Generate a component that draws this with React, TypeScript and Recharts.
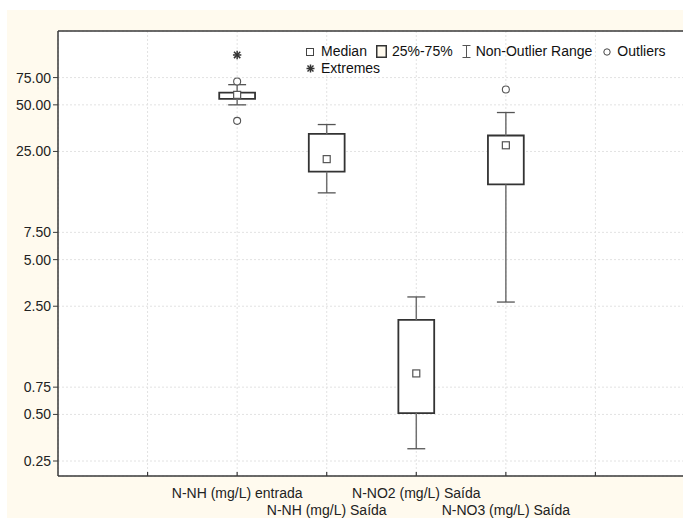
import React from 'react';
import {
  ComposedChart,
  XAxis,
  YAxis,
  CartesianGrid,
  Scatter,
  ReferenceArea,
  ReferenceLine,
  Legend,
} from 'recharts';

// ---------- data ----------
const categories = [
  'N-NH (mg/L) entrada',
  'N-NH (mg/L) Saída',
  'N-NO2 (mg/L) Saída',
  'N-NO3 (mg/L) Saída',
];
const categoryPositions = [2, 3, 4, 5];
const whiskerLow = [50, 13.5, 0.3, 2.66];
const quartile1 = [54.7, 18.5, 0.51, 15.3];
const medians = [58, 22.3, 0.92, 27.4];
const quartile3 = [60, 32.5, 2.04, 31.7];
const whiskerHigh = [67.5, 37.3, 2.87, 44.6];
const outlierCategory = [0, 0, 3];
const outlierValues = [70.7, 39.4, 62.8];
const extremeCategory = [0];
const extremeValues = [105];

const yTicks = [0.25, 0.5, 0.75, 2.5, 5, 7.5, 25, 50, 75];
const xTicks = [1, 2, 3, 4, 5, 6];
const xDomain = [0, 7];
const yDomain = [0.2, 150];

// ---------- styles ----------
const FONT = "'Liberation Sans', Arial, Helvetica, sans-serif";
const CREAM = '#fffaee';
const AXIS = '#3a3a3a';
const BOX_HALF = 0.2;
const CAP_HALF = 0.1;

const medianData = categoryPositions.map((x, i) => ({ x, y: medians[i] }));
const outlierData = outlierCategory.map((c, i) => ({ x: categoryPositions[c], y: outlierValues[i] }));
const extremeData = extremeCategory.map((c, i) => ({ x: categoryPositions[c], y: extremeValues[i] }));

const BottomTick = (props: any) => {
  const { x, y, payload } = props;
  const idx = categoryPositions.indexOf(payload.value);
  return (
    <g>
      <line x1={x} x2={x} y1={y - 4} y2={y} stroke={AXIS} strokeWidth={1.2} />
      {idx >= 0 && (
        <text
          x={x}
          y={y + (idx % 2 === 0 ? 22 : 39)}
          textAnchor="middle"
          fontSize={14}
          fontFamily={FONT}
          fill="#222"
        >
          {categories[idx]}
        </text>
      )}
    </g>
  );
};

const TopTick = (props: any) => {
  const { x, y } = props;
  return <line x1={x} x2={x} y1={y} y2={y + 4} stroke={AXIS} strokeWidth={1.2} />;
};

const MedianShape = (props: any) => {
  const { cx, cy } = props;
  return <rect x={cx - 3.5} y={cy - 3.5} width={7} height={7} fill="#fff" stroke="#555" strokeWidth={1.2} />;
};

const OutlierShape = (props: any) => {
  const { cx, cy } = props;
  return <circle cx={cx} cy={cy} r={3.5} fill="#fff" stroke="#555" strokeWidth={1.1} />;
};

const ExtremeShape = (props: any) => {
  const { cx, cy } = props;
  const r = 4.2;
  const d = r * 0.75;
  return (
    <g stroke="#333" strokeWidth={1.5}>
      <line x1={cx} x2={cx} y1={cy - r} y2={cy + r} />
      <line x1={cx - d} x2={cx + d} y1={cy - d} y2={cy + d} />
      <line x1={cx - d} x2={cx + d} y1={cy + d} y2={cy - d} />
      <line x1={cx - r} x2={cx + r} y1={cy} y2={cy} />
    </g>
  );
};

const LegendContent = () => {
  const item: React.CSSProperties = { display: 'inline-flex', alignItems: 'center', marginRight: 9 };
  const icon: React.CSSProperties = { marginRight: 7, display: 'block' };
  return (
    <div style={{ fontFamily: FONT, fontSize: 14, color: '#111', lineHeight: '16.5px', whiteSpace: 'nowrap' }}>
      <div style={{ display: 'flex', alignItems: 'center', height: 17 }}>
        <span style={item}>
          <svg width={8} height={8} style={icon}>
            <rect x={0.5} y={0.5} width={7} height={7} fill="#fff" stroke="#444" />
          </svg>
          Median
        </span>
        <span style={item}>
          <svg width={11} height={13} style={{ ...icon, marginRight: 5 }}>
            <rect x={0.75} y={0.75} width={9.5} height={11.5} fill={CREAM} stroke="#333" strokeWidth={1.5} />
          </svg>
          25%-75%
        </span>
        <span style={{ ...item, marginRight: 11 }}>
          <svg width={9} height={13} style={{ ...icon, marginRight: 5 }}>
            <line x1={0.5} x2={8.5} y1={0.5} y2={0.5} stroke="#555" />
            <line x1={4.5} x2={4.5} y1={0.5} y2={12.5} stroke="#555" />
            <line x1={0.5} x2={8.5} y1={12.5} y2={12.5} stroke="#555" />
          </svg>
          Non-Outlier Range
        </span>
        <span style={item}>
          <svg width={8} height={8} style={{ ...icon, marginRight: 6 }}>
            <circle cx={4} cy={4} r={3.2} fill="#fff" stroke="#444" />
          </svg>
          Outliers
        </span>
      </div>
      <div style={{ display: 'flex', alignItems: 'center', height: 16.5 }}>
        <span style={item}>
          <svg width={9} height={9} style={{ ...icon, marginRight: 6 }}>
            <g stroke="#333" strokeWidth={1.5}>
              <line x1={4.5} x2={4.5} y1={0.5} y2={8.5} />
              <line x1={1.5} x2={7.5} y1={1.5} y2={7.5} />
              <line x1={1.5} x2={7.5} y1={7.5} y2={1.5} />
              <line x1={0.5} x2={8.5} y1={4.5} y2={4.5} />
            </g>
          </svg>
          Extremes
        </span>
      </div>
    </div>
  );
};

export default function App() {
  return (
    <div
      style={{
        position: 'absolute',
        left: 7,
        top: 10,
        width: 676,
        height: 508,
        background: CREAM,
        overflow: 'hidden',
      }}
    >
      <ComposedChart
        width={680}
        height={508}
        margin={{ top: 20, right: 2, bottom: 0, left: 0 }}
        style={{ fontFamily: FONT }}
      >
        <CartesianGrid stroke="#e2e2e2" strokeDasharray="2 2" fill="#ffffff" fillOpacity={1} />
        <XAxis
          type="number"
          dataKey="x"
          domain={xDomain}
          ticks={xTicks}
          allowDataOverflow
          height={42}
          tickSize={0}
          tickMargin={0}
          tickLine={false}
          tick={<BottomTick />}
          axisLine={{ stroke: AXIS, strokeWidth: 1.5 }}
          interval={0}
        />
        <XAxis
          xAxisId="top"
          orientation="top"
          type="number"
          domain={xDomain}
          ticks={xTicks}
          allowDataOverflow
          height={1}
          tickSize={0}
          tickMargin={0}
          tickLine={false}
          tick={<TopTick />}
          axisLine={{ stroke: AXIS, strokeWidth: 1.5 }}
          interval={0}
        />
        <YAxis
          type="number"
          dataKey="y"
          scale="log"
          domain={yDomain}
          ticks={yTicks}
          allowDataOverflow
          width={51}
          tickSize={5}
          tickMargin={2}
          tickLine={{ stroke: AXIS }}
          axisLine={{ stroke: AXIS, strokeWidth: 1.5 }}
          tick={{ fontSize: 14, fill: '#222', fontFamily: FONT }}
          tickFormatter={(v: number) => v.toFixed(2)}
          interval={0}
        />
        {categoryPositions.map((c, i) => (
          <ReferenceLine
            key={`wu${i}`}
            segment={[
              { x: c, y: quartile3[i] },
              { x: c, y: whiskerHigh[i] },
            ]}
            stroke="#707070"
            strokeWidth={1.5}
          />
        ))}
        {categoryPositions.map((c, i) => (
          <ReferenceLine
            key={`wl${i}`}
            segment={[
              { x: c, y: whiskerLow[i] },
              { x: c, y: quartile1[i] },
            ]}
            stroke="#707070"
            strokeWidth={1.5}
          />
        ))}
        {categoryPositions.map((c, i) => (
          <ReferenceLine
            key={`cu${i}`}
            segment={[
              { x: c - CAP_HALF, y: whiskerHigh[i] },
              { x: c + CAP_HALF, y: whiskerHigh[i] },
            ]}
            stroke="#555"
            strokeWidth={1.3}
          />
        ))}
        {categoryPositions.map((c, i) => (
          <ReferenceLine
            key={`cl${i}`}
            segment={[
              { x: c - CAP_HALF, y: whiskerLow[i] },
              { x: c + CAP_HALF, y: whiskerLow[i] },
            ]}
            stroke="#555"
            strokeWidth={1.3}
          />
        ))}
        {categoryPositions.map((c, i) => (
          <ReferenceArea
            key={`b${i}`}
            x1={c - BOX_HALF}
            x2={c + BOX_HALF}
            y1={quartile1[i]}
            y2={quartile3[i]}
            fill="#ffffff"
            fillOpacity={1}
            stroke="#333"
            strokeWidth={1.8}
          />
        ))}
        <Scatter data={medianData} shape={<MedianShape />} isAnimationActive={false} />
        <Scatter data={outlierData} shape={<OutlierShape />} isAnimationActive={false} />
        <Scatter data={extremeData} shape={<ExtremeShape />} isAnimationActive={false} />
        <Legend
          layout="horizontal"
          verticalAlign="middle"
          align="center"
          wrapperStyle={{ position: 'absolute', top: 33, left: 299, width: 380, height: 34 }}
          content={() => <LegendContent />}
        />
      </ComposedChart>
    </div>
  );
}
